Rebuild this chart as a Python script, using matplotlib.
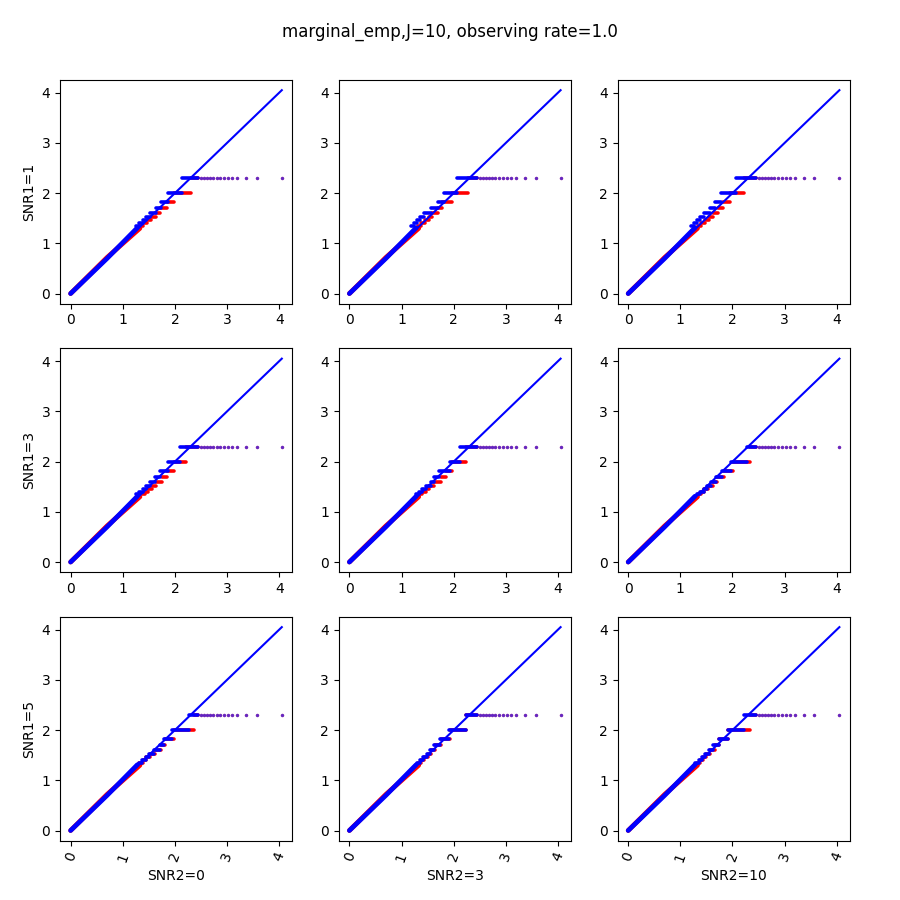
import numpy as np
import matplotlib
matplotlib.use("Agg")
import matplotlib.pyplot as plt

# row / column labels of the grid
SNR1 = [1, 3, 5]
SNR2 = [0, 3, 10]

# empirical -log10 p levels where the points pile up into steps
STEP_LEVELS = [1.35, 1.40, 1.46, 1.52, 1.60, 1.70, 1.82, 2.00]
TOP_LEVEL = 2.30
TOP_DENSE_END = 2.45
# isolated points on the top level (both methods share them)
TAIL_X = [2.50, 2.56, 2.62, 2.68, 2.74, 2.80, 2.87, 2.94, 3.02, 3.10,
          3.20, 3.37, 3.57, 4.05]
DIAG_MAX = 4.05

# diagonal band of points below the steps (x, y) for each method
RED_BAND_X = [0.0, 0.70, 1.33]
RED_BAND_Y = [0.0, 0.72, 1.30]
BLUE_BAND_X = [0.0, 0.70, 1.28]
BLUE_BAND_Y = [0.0, 0.70, 1.31]

# right end of each step (same order as STEP_LEVELS), one row per panel
RED_ENDS = [
    [1.38, 1.46, 1.55, 1.63, 1.72, 1.84, 1.99, 2.31],
    [1.38, 1.45, 1.52, 1.59, 1.69, 1.78, 1.97, 2.28],
    [1.40, 1.47, 1.54, 1.62, 1.72, 1.82, 1.96, 2.23],
    [1.42, 1.49, 1.56, 1.64, 1.75, 1.85, 1.99, 2.22],
    [1.40, 1.46, 1.53, 1.62, 1.75, 1.85, 1.97, 2.24],
    [1.40, 1.46, 1.53, 1.62, 1.71, 1.84, 2.01, 2.33],
    [1.38, 1.45, 1.53, 1.61, 1.73, 1.81, 1.99, 2.36],
    [1.38, 1.44, 1.50, 1.56, 1.64, 1.76, 1.93, 2.24],
    [1.38, 1.44, 1.50, 1.57, 1.66, 1.75, 1.92, 2.33],
]
BLUE_ENDS = [
    [1.32, 1.38, 1.44, 1.53, 1.63, 1.73, 1.86, 2.13],
    [1.24, 1.29, 1.35, 1.43, 1.56, 1.69, 1.81, 2.06],
    [1.27, 1.32, 1.38, 1.46, 1.56, 1.67, 1.78, 2.06],
    [1.32, 1.38, 1.44, 1.52, 1.62, 1.72, 1.86, 2.10],
    [1.34, 1.40, 1.46, 1.56, 1.63, 1.72, 1.92, 2.13],
    [1.38, 1.45, 1.51, 1.59, 1.68, 1.80, 1.97, 2.27],
    [1.37, 1.44, 1.50, 1.60, 1.72, 1.80, 1.94, 2.27],
    [1.36, 1.42, 1.48, 1.54, 1.62, 1.74, 1.91, 2.23],
    [1.35, 1.41, 1.47, 1.54, 1.63, 1.74, 1.91, 2.23],
]


def draw_series(ax, band_x, band_y, ends, color):
    # dense diagonal part
    ax.plot(band_x, band_y, color=color, lw=3.4, solid_capstyle="round")
    # staircase: each step runs from the previous end to its own end
    start = ends[0] - 0.06
    for level, end in zip(STEP_LEVELS, ends):
        ax.plot([start, end], [level, level], color=color, lw=2.6,
                solid_capstyle="round")
        start = end
    ax.plot([start, TOP_DENSE_END], [TOP_LEVEL, TOP_LEVEL], color=color,
            lw=2.6, solid_capstyle="round")
    ax.scatter(TAIL_X, [TOP_LEVEL] * len(TAIL_X), s=6, color=color,
               alpha=0.6, linewidths=0)


fig, axes = plt.subplots(3, 3, figsize=(9, 9), dpi=100)
fig.subplots_adjust(left=0.0667, right=0.9444, top=0.9111, bottom=0.0659,
                    wspace=0.2, hspace=0.2)

for i in range(3):
    for j in range(3):
        ax = axes[i, j]
        k = i * 3 + j
        draw_series(ax, RED_BAND_X, RED_BAND_Y, RED_ENDS[k], "red")
        draw_series(ax, BLUE_BAND_X, BLUE_BAND_Y, BLUE_ENDS[k], "blue")
        ax.plot([0, DIAG_MAX], [0, DIAG_MAX], color="blue", lw=1.5)
        ax.set_xticks([0, 1, 2, 3, 4])
        ax.set_yticks([0, 1, 2, 3, 4])
        if j == 0:
            ax.set_ylabel("SNR1=%d" % SNR1[i])
        if i == 2:
            ax.set_xlabel("SNR2=%d" % SNR2[j])
            ax.tick_params(axis="x", labelrotation=70)

fig.suptitle("marginal_emp,J=10, observing rate=1.0", y=0.975)
fig.savefig("out.png", dpi=100)
